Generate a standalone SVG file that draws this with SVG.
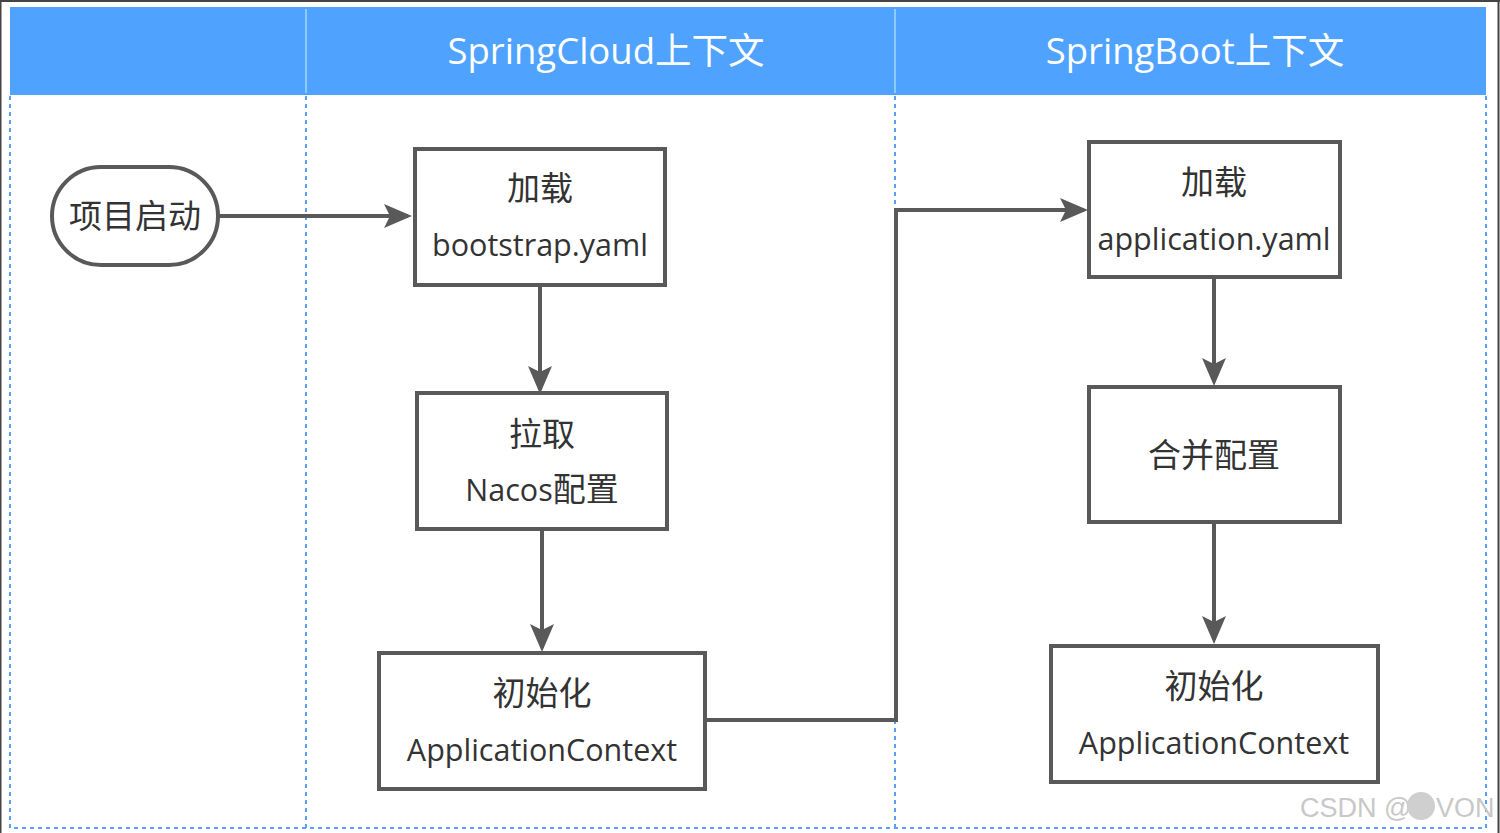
<svg xmlns="http://www.w3.org/2000/svg" width="1500" height="833" viewBox="0 0 1500 833">
<style>
.lane{fill:none;stroke:#5a9ff2;stroke-width:2;stroke-dasharray:4 4}
.box{fill:#fff;stroke:#595959;stroke-width:4}
.t{font-family:"Open Sans","Noto Sans","Noto Sans CJK SC",sans-serif;font-size:30.5px;fill:#333;text-anchor:middle}
.cj{font-size:33px}
.h{font-family:"Open Sans","Noto Sans","Noto Sans CJK SC",sans-serif;font-size:36.5px;fill:#fff;text-anchor:middle}
.c{fill:none;stroke:#595959;stroke-width:4}
</style>
<defs>
<marker id="ah" markerWidth="7" markerHeight="6" refX="6" refY="3" orient="auto" markerUnits="strokeWidth">
<path d="M0,0 L7,3 L0,6 L1.5,3 Z" fill="#595959"/>
</marker>
</defs>
<rect width="1500" height="833" fill="#fff"/>
<path d="M0,1 H1500 M0.5,0 V833 M1498.5,0 V833" stroke="#444" stroke-width="2" fill="none"/>
<g id="lanes">
<rect x="10" y="7" width="1476" height="88" fill="#4fa3ff"/>
<path d="M306,9 V93 M895,9 V93" stroke="#8ccaff" stroke-width="2"/>
<path class="lane" d="M10,96 V828 H1486 V96 M306,96 V828 M895,96 V828"/>
<text class="h" x="606" y="64">SpringCloud上下文</text>
<text class="h" x="1195" y="64">SpringBoot上下文</text>
</g>
<g id="connectors">
<path class="c" d="M218,216 H408" marker-end="url(#ah)"/>
<path class="c" d="M540,285 V390" marker-end="url(#ah)"/>
<path class="c" d="M542,529 V648" marker-end="url(#ah)"/>
<path class="c" d="M705,720 H896 V210 H1084" marker-end="url(#ah)"/>
<path class="c" d="M1214,277 V382" marker-end="url(#ah)"/>
<path class="c" d="M1214,522 V640" marker-end="url(#ah)"/>
</g>
<g id="start">
<rect class="box" x="52" y="167" width="166" height="98" rx="49" ry="49"/>
<text class="t cj" x="135" y="228">项目启动</text>
</g>
<g id="load-bootstrap">
<rect class="box" x="415" y="149" width="250" height="136"/>
<text class="t cj" x="540" y="200">加载</text>
<text class="t" x="540" y="256">bootstrap.yaml</text>
</g>
<g id="pull-nacos">
<rect class="box" x="417" y="393" width="250" height="136"/>
<text class="t cj" x="542" y="446">拉取</text>
<text class="t" x="542" y="501">Nacos<tspan class="cj">配置</tspan></text>
</g>
<g id="init-cloud">
<rect class="box" x="379" y="653" width="326" height="136"/>
<text class="t cj" x="542" y="705">初始化</text>
<text class="t" x="542" y="761">ApplicationContext</text>
</g>
<g id="load-application">
<rect class="box" x="1089" y="142" width="251" height="135"/>
<text class="t cj" x="1214" y="194">加载</text>
<text class="t" x="1214" y="250">application.yaml</text>
</g>
<g id="merge">
<rect class="box" x="1089" y="387" width="251" height="135"/>
<text class="t cj" x="1214" y="467">合并配置</text>
</g>
<g id="init-boot">
<rect class="box" x="1051" y="646" width="327" height="136"/>
<text class="t cj" x="1214" y="698">初始化</text>
<text class="t" x="1214" y="754">ApplicationContext</text>
</g>
<g id="watermark" font-family="'Liberation Sans',Arial,sans-serif" font-size="27" fill="#c8c8c8">
<text x="1300" y="817">CSDN @</text>
<circle cx="1421" cy="806" r="14" fill="#cfcfcf"/>
<text x="1436" y="817">VON</text>
</g>
</svg>
